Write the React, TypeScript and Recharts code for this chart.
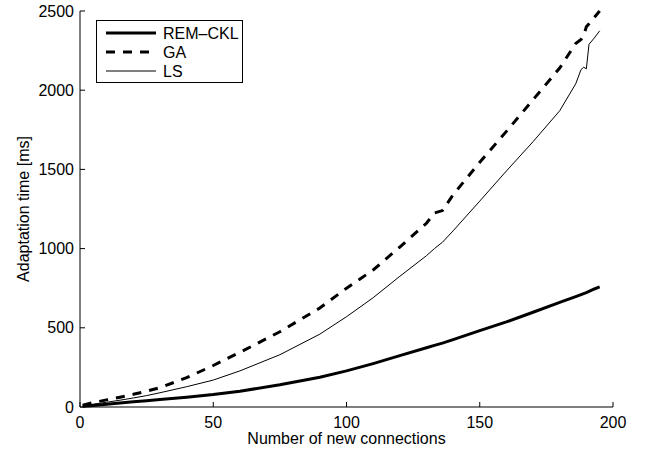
import { LineChart, Line, XAxis, YAxis, Legend } from "recharts";

const FONT = "'Liberation Sans', Arial, Helvetica, sans-serif";

const connections = [1, 5, 10, 15, 20, 25, 30, 40, 50, 60, 75, 90, 100, 110, 120, 130, 133, 136, 140, 150, 160, 170, 180, 186, 188, 189, 190, 191, 193, 195];
const remCkl = [4, 10, 17, 25, 33, 40, 47, 62, 79, 100, 140, 188, 228, 274, 324, 374, 389, 403, 425, 482, 537, 598, 660, 697, 710, 716, 722, 730, 745, 758];
const ga = [12, 28, 45, 62, 80, 100, 122, 185, 262, 345, 475, 625, 750, 865, 1010, 1160, 1225, 1240, 1340, 1545, 1740, 1940, 2140, 2295, 2320, 2345, 2400, 2420, 2460, 2500];
const ls = [8, 18, 30, 43, 57, 72, 90, 128, 170, 228, 330, 460, 570, 690, 825, 955, 1000, 1040, 1112, 1300, 1490, 1675, 1870, 2040, 2130, 2145, 2135, 2290, 2330, 2375];

const xTicks = [0, 50, 100, 150, 200];
const yTicks = [0, 500, 1000, 1500, 2000, 2500];

const rows = connections.map((n, i) => ({ n, remCkl: remCkl[i], ga: ga[i], ls: ls[i] }));

const SERIES = [
  { key: "remCkl", name: "REM\u2013CKL", width: 3, dash: undefined as string | undefined },
  { key: "ga", name: "GA", width: 3, dash: "9 8" },
  { key: "ls", name: "LS", width: 1, dash: undefined as string | undefined },
];

function BoxLegend() {
  return (
    <svg width={147} height={63} style={{ display: "block" }}>
      <rect x={0.5} y={0.5} width={146} height={62} fill="#fff" stroke="#000" />
      {SERIES.map((s, i) => {
        const y = 13 + i * 19;
        return (
          <g key={s.key}>
            <line x1={10} x2={60} y1={y} y2={y} stroke="#000" strokeWidth={s.width} strokeDasharray={s.dash} />
            <text x={67} y={y} dy="0.36em" fontSize={16} fontFamily={FONT} fill="#000">
              {s.name}
            </text>
          </g>
        );
      })}
    </svg>
  );
}

const tickStyle = { fill: "#000", fontSize: 16, fontFamily: FONT };

export default function App() {
  return (
    <div style={{ position: "absolute", left: 0, top: 0, background: "#fff" }}>
      <LineChart
        width={647}
        height={451}
        data={rows}
        margin={{ top: 11, right: 34, bottom: 0, left: 0 }}
        style={{ fontFamily: FONT }}
      >
        <XAxis
          xAxisId="b"
          dataKey="n"
          type="number"
          domain={[0, 200]}
          ticks={xTicks}
          height={44}
          tickSize={-5}
          tickMargin={15}
          axisLine={{ stroke: "#000" }}
          tickLine={{ stroke: "#000" }}
          tick={tickStyle}
          label={{ value: "Number of new connections", position: "insideBottom", offset: 7, fill: "#000", fontSize: 16 }}
        />
        <XAxis
          xAxisId="t"
          orientation="top"
          type="number"
          domain={[0, 200]}
          ticks={xTicks}
          height={0}
          tickSize={-5}
          axisLine={{ stroke: "#000" }}
          tickLine={{ stroke: "#000" }}
          tick={false}
        />
        <YAxis
          yAxisId="l"
          type="number"
          domain={[0, 2500]}
          ticks={yTicks}
          width={80}
          tickSize={-5}
          tickMargin={11}
          axisLine={{ stroke: "#000" }}
          tickLine={{ stroke: "#000" }}
          tick={tickStyle}
          label={{
            value: "Adaptation time [ms]",
            angle: -90,
            position: "insideLeft",
            offset: 23,
            fill: "#000",
            fontSize: 16,
            style: { textAnchor: "middle" },
          }}
        />
        <YAxis
          yAxisId="r"
          orientation="right"
          type="number"
          domain={[0, 2500]}
          ticks={yTicks}
          width={0}
          tickSize={-5}
          axisLine={{ stroke: "#000" }}
          tickLine={{ stroke: "#000" }}
          tick={false}
        />
        <Legend
          layout="vertical"
          align="center"
          verticalAlign="middle"
          content={() => <BoxLegend />}
          wrapperStyle={{ position: "absolute", left: 96, top: 20, width: 147, height: 63 }}
        />
        {SERIES.map((s) => (
          <Line
            key={s.key}
            xAxisId="b"
            yAxisId="l"
            dataKey={s.key}
            name={s.name}
            type="linear"
            stroke="#000"
            strokeWidth={s.width}
            strokeDasharray={s.dash}
            dot={false}
            activeDot={false}
            isAnimationActive={false}
          />
        ))}
      </LineChart>
    </div>
  );
}
